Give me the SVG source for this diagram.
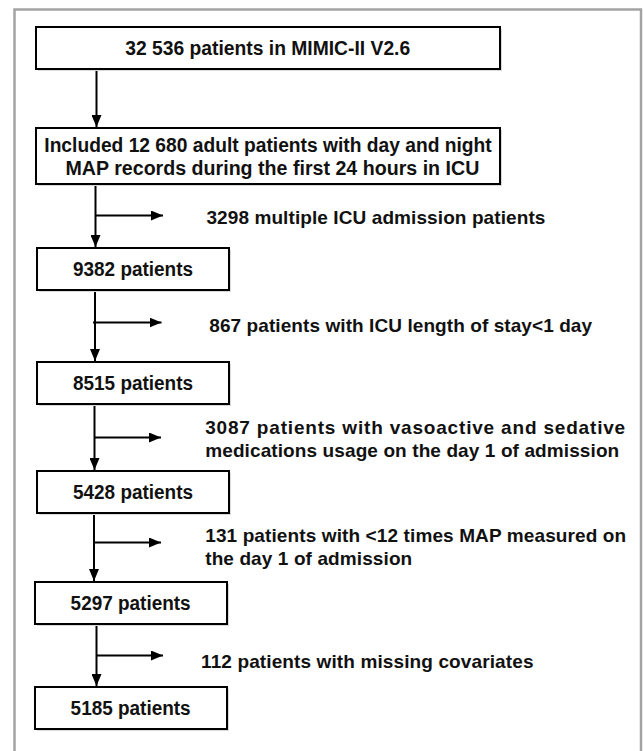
<svg xmlns="http://www.w3.org/2000/svg" width="643" height="751" viewBox="0 0 643 751">
<style>
.box{fill:#fff;stroke:#000;stroke-width:2}
.shadow{fill:#d9d9d9}
.t{font-family:"Liberation Sans",Arial,sans-serif;font-weight:bold;font-size:19px;fill:#111}
.b{font-size:20px}
.c{text-anchor:middle}
.ln{stroke:#000;stroke-width:2;fill:none}
</style>
<defs>
<marker id="ah" viewBox="0 0 12 10" refX="12" refY="5" markerWidth="12" markerHeight="10" markerUnits="userSpaceOnUse" orient="auto">
<path d="M0,0 L12,5 L0,10 Z" fill="#000"/>
</marker>
</defs>
<rect x="0" y="0" width="643" height="751" fill="#fff"/>
<rect x="14.5" y="9.5" width="626.5" height="760" fill="none" stroke="#a3a3a3" stroke-width="2.5"/>
<g id="connectors">
<line class="ln" x1="96.5" y1="69" x2="96.5" y2="127" marker-end="url(#ah)"/>
<line class="ln" x1="95.5" y1="184" x2="95.5" y2="247" marker-end="url(#ah)"/>
<line class="ln" x1="95.5" y1="215.5" x2="163" y2="215.5" marker-end="url(#ah)"/>
<line class="ln" x1="95" y1="290" x2="95" y2="361" marker-end="url(#ah)"/>
<line class="ln" x1="93" y1="322.5" x2="161.5" y2="322.5" marker-end="url(#ah)"/>
<line class="ln" x1="94.5" y1="404" x2="94.5" y2="470" marker-end="url(#ah)"/>
<line class="ln" x1="94.5" y1="437.5" x2="161" y2="437.5" marker-end="url(#ah)"/>
<line class="ln" x1="94" y1="513" x2="94" y2="581" marker-end="url(#ah)"/>
<line class="ln" x1="94" y1="542.5" x2="161" y2="542.5" marker-end="url(#ah)"/>
<line class="ln" x1="96.5" y1="624" x2="96.5" y2="686" marker-end="url(#ah)"/>
<line class="ln" x1="96.5" y1="655.5" x2="163" y2="655.5" marker-end="url(#ah)"/>
</g>
<g id="n1">
<rect class="shadow" x="38" y="29" width="464" height="42"/>
<rect class="box" x="36" y="27" width="464" height="42"/>
<text class="t" x="125.2" y="54.5" textLength="285" lengthAdjust="spacingAndGlyphs" style="font-size:19.5px">32 536 patients in MIMIC-II V2.6</text>
</g>
<g id="n2">
<rect class="shadow" x="38" y="130" width="464" height="56"/>
<rect class="box" x="36" y="128" width="464" height="56"/>
<text class="t" x="44.3" y="152" textLength="447.4" lengthAdjust="spacingAndGlyphs" style="font-size:19.5px">Included 12 680 adult patients with day and night</text>
<text class="t" x="65.5" y="175" textLength="413.8" lengthAdjust="spacingAndGlyphs" style="font-size:19.5px">MAP records during the first 24 hours in ICU</text>
</g>
<g id="e1"><text class="t" x="206.4" y="224" textLength="339">3298 multiple ICU admission patients</text></g>
<g id="n3">
<rect class="shadow" x="39" y="250" width="192" height="42"/>
<rect class="box" x="37" y="248" width="192" height="42"/>
<text class="t b" x="73" y="276" textLength="120" lengthAdjust="spacingAndGlyphs">9382 patients</text>
</g>
<g id="e2"><text class="t" x="209.3" y="331.7" textLength="382.8">867 patients with ICU length of stay&lt;1 day</text></g>
<g id="n4">
<rect class="shadow" x="39" y="364" width="192" height="42"/>
<rect class="box" x="37" y="362" width="192" height="42"/>
<text class="t b" x="73" y="389.5" textLength="120" lengthAdjust="spacingAndGlyphs">8515 patients</text>
</g>
<g id="e3">
<text class="t" x="205.2" y="433.5" textLength="420">3087 patients with vasoactive and sedative</text>
<text class="t" x="205.2" y="457" textLength="414">medications usage on the day 1 of admission</text>
</g>
<g id="n5">
<rect class="shadow" x="39" y="473" width="192" height="42"/>
<rect class="box" x="37" y="471" width="192" height="42"/>
<text class="t b" x="73" y="498.5" textLength="120" lengthAdjust="spacingAndGlyphs">5428 patients</text>
</g>
<g id="e4">
<text class="t" x="205.2" y="541.7" textLength="421">131 patients with &lt;12 times MAP measured on</text>
<text class="t" x="205.2" y="565" textLength="207">the day 1 of admission</text>
</g>
<g id="n6">
<rect class="shadow" x="37" y="584" width="192" height="42"/>
<rect class="box" x="35" y="582" width="192" height="42"/>
<text class="t b" x="70.6" y="609.5" textLength="120" lengthAdjust="spacingAndGlyphs">5297 patients</text>
</g>
<g id="e5"><text class="t" x="201" y="668.3" textLength="332.5">112 patients with missing covariates</text></g>
<g id="n7">
<rect class="shadow" x="37" y="689" width="192" height="42"/>
<rect class="box" x="35" y="687" width="192" height="42"/>
<text class="t b" x="70.6" y="714.5" textLength="120" lengthAdjust="spacingAndGlyphs">5185 patients</text>
</g>
</svg>
